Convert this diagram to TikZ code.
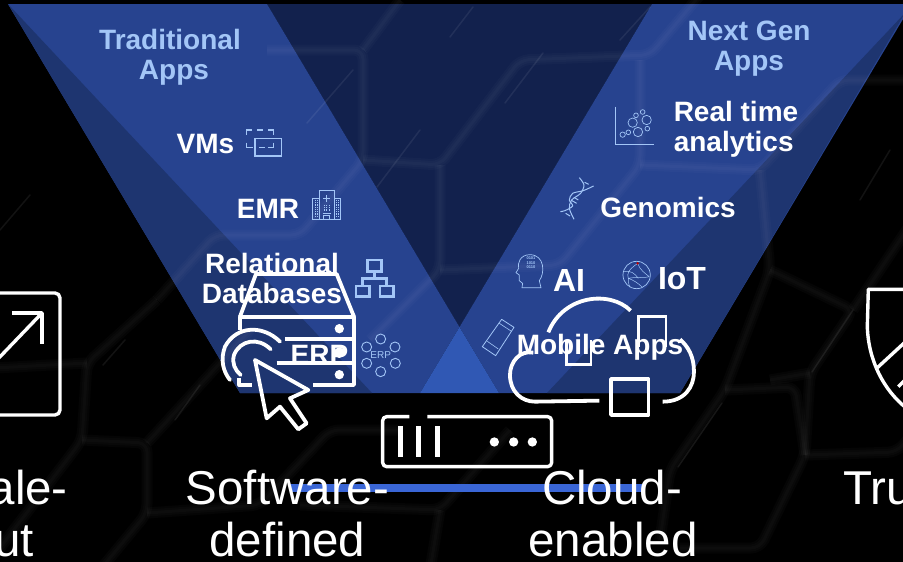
\documentclass[tikz,border=0pt]{standalone}
\usepackage{fontspec}
\setmainfont{Liberation Sans}
\definecolor{bluemain}{HTML}{27438F}
\definecolor{bluedark}{HTML}{1E3570}
\definecolor{navy}{HTML}{12214D}
\definecolor{bluelight}{HTML}{3058B4}
\definecolor{barblue}{HTML}{3A66D6}
\definecolor{pale}{HTML}{A3C6F7}
\newcommand{\cellpath}[1]{%
  \draw[draw=white,opacity=.018,line width=11pt,line join=round,rounded corners=9pt] #1;
  \draw[draw=white,opacity=.018,line width=7pt,line join=round,rounded corners=9pt] #1;
  \draw[draw=white,opacity=.018,line width=3pt,line join=round,rounded corners=9pt] #1;
}
\tikzset{
  apptext/.style={text=white,font=\fontsize{28}{30}\selectfont\bfseries,align=center,inner sep=0pt},
  bigapptext/.style={apptext,font=\fontsize{32}{34}\selectfont\bfseries},
  headtext/.style={apptext,text=pale},
  pillartext/.style={text=white,font=\fontsize{47.5}{51}\selectfont,align=center,inner sep=0pt},
  whiteicon/.style={draw=white,line width=3.8pt,line join=round},
  paleicon/.style={draw=pale,line width=.7pt},
  paleheavy/.style={draw=pale,line width=2.6pt},
  cellglint/.style={draw=white,opacity=.07,line width=1.5pt,line cap=round},
  px3a/.style={shift={(180,250)},x=.3333pt,y=-.3333pt},
  px3b/.style={shift={(370,250)},x=.3333pt,y=-.3333pt},
  px3c/.style={shift={(0,0)},x=.3333pt,y=-.3333pt},
  px3d/.style={shift={(450,0)},x=.3333pt,y=-.3333pt},
  px3e/.style={shift={(780,270)},x=.3333pt,y=-.3333pt},
}
\begin{document}
\begin{tikzpicture}[x=1pt,y=-1pt]
\useasboundingbox (0,0) rectangle (903,562);
\clip (0,0) rectangle (903,562);
\fill[black] (0,0) rectangle (903,562);
% V shape
\fill[navy] (267,4) -- (652,4) -- (459.5,327) -- cycle;
\fill[bluemain] (8,4) -- (267,4) -- (459.5,327) -- (420,393) -- (240,393) -- cycle;
\fill[bluemain] (652,4) -- (912,4) -- (680,393) -- (499,393) -- (459.5,327) -- cycle;
\fill[bluedark] (8,4) -- (372,393) -- (240,393) -- cycle;
\fill[bluedark] (905,13) -- (680,393) -- (547,393) -- cycle;
\fill[bluelight] (459.5,327) -- (420,393) -- (499,393) -- cycle;
% honeycomb background
\cellpath{(157,300) -- (87,363) -- (82,440) -- (0,548)}
\cellpath{(87,363) -- (-5,368)}
\cellpath{(82,440) -- (147,443) -- (147,513) -- (100,570)}
\cellpath{(147,513) -- (260,505) -- (330,430) -- (400,430)}
\cellpath{(147,443) -- (200,385) -- (250,330)}
\cellpath{(157,300) -- (215,235) -- (300,235) -- (363,160) -- (363,50) -- (267,50)}
\cellpath{(363,50) -- (400,0)}
\cellpath{(363,160) -- (440,165) -- (520,60) -- (650,55) -- (700,-5)}
\cellpath{(440,165) -- (440,270) -- (370,340)}
\cellpath{(440,270) -- (560,265) -- (640,165) -- (640,60)}
\cellpath{(640,165) -- (760,170) -- (840,80) -- (903,80)}
\cellpath{(760,170) -- (770,270) -- (725,390) -- (670,470) -- (660,540)}
\cellpath{(770,270) -- (853,310) -- (810,373) -- (805,455) -- (760,548) -- (680,548)}
\cellpath{(725,390) -- (795,387) -- (805,455)}
\cellpath{(810,373) -- (770,380)}
\cellpath{(805,455) -- (897,452) -- (920,425)}
\cellpath{(853,310) -- (910,225)}
\cellpath{(300,505) -- (440,510) -- (510,430)}
\cellpath{(440,510) -- (430,570)}
\draw[cellglint] (353,70) -- (307,123);
\draw[cellglint] (420,130) -- (377,187);
\draw[cellglint] (473,7) -- (450,37);
\draw[cellglint] (543,53) -- (505,103);
\draw[cellglint] (650,7) -- (620,40);
\draw[cellglint] (853,310) -- (812,372);
\draw[cellglint] (175,420) -- (200,385);
\draw[cellglint] (125,340) -- (103,365);
\draw[cellglint] (30,195) -- (0,230);
\draw[cellglint] (890,150) -- (860,200);
\draw[cellglint] (722,403) -- (678,467);
% texts of the V
\node[headtext] (trad) at (170,57) {Traditional\\\hspace*{8pt}Apps};
\node[headtext] (nextgen) at (749,49) {Next Gen\\Apps};
\node[apptext] (vms) at (205.5,144.5) {VMs};
\node[apptext] (emr) at (268,208.5) {EMR};
\node[apptext] (rdb) at (272,278) {Relational\\Databases};
\node[apptext,align=left] (rta) at (736,129) {Real time\\analytics};
\node[apptext] (geno) at (668,207.5) {Genomics};
\node[bigapptext] (ai) at (569,280) {AI};
\node[bigapptext] (iot) at (682,279) {IoT};
% pale icons
\begin{scope}[px3c]
  \draw[paleicon,line width=1.3pt] (740,405) -- (740,390) -- (755,390) (772,390) -- (790,390) (805,390) -- (820,390) -- (820,405)
    (740,428) -- (740,443) -- (758,443) (778,443) -- (795,443) (820,428) -- (820,443) -- (805,443);
  \draw[paleicon,line width=1.3pt] (765,415) rectangle (845,468);
  \draw[paleicon] (958,572) rectangle (1002,657) (938,595) rectangle (958,657) (1002,595) rectangle (1022,657);
  \draw[paleicon,line width=1pt] (980,585) -- (980,605) (970,595) -- (990,595) (972,657) -- (972,648) -- (988,648) -- (988,657) (968,640) -- (992,640);
  \foreach \c in {945,952,1009,1016}{\draw[pale,line width=.8pt,densely dotted] (\c,600) -- (\c,652);}
  \foreach \c in {972,980,988}{\draw[pale,line width=.8pt,densely dotted] (\c,615) -- (\c,635);}
\end{scope}
\begin{scope}[px3a]
  \draw[paleheavy] (563,30) rectangle (605,65) (528,108) rectangle (568,140) (600,108) rectangle (640,140);
  \draw[paleheavy] (584,65) -- (584,85) (548,108) -- (548,85) -- (620,85) -- (620,108);
  \foreach \p in {(602,267),(645,291),(646,340),(602,365),(560,340),(560,291)}{\draw[paleicon,line width=.9pt] \p circle[radius=15];}
  \node[text=pale,font=\fontsize{10}{10}\selectfont,inner sep=0pt] (erpsmall) at (602,316) {ERP};
\end{scope}
\begin{scope}[px3d]
  \draw[paleicon] (497,320) -- (497,433) -- (612,433);
  \foreach \a/\b/\r in {518/404/8,535/397/7,564/396/14,592/386/7,548/368/14,590/360/14,558/346/7,578/336/7}{\draw[paleicon] (\a,\b) circle[radius=\r];}
  \draw[paleicon,line width=1pt] plot[smooth] coordinates {(388,533) (402,555) (392,580) (365,600) (358,625) (372,658)};
  \draw[paleicon,line width=1pt] plot[smooth] coordinates {(431,558) (400,572) (368,580) (358,600) (368,618) (345,632) (331,635)};
  \draw[paleicon,line width=1pt] (404,547) -- (416,553) (372,592) -- (385,600) (366,602) -- (380,610) (347,640) -- (360,648);
\end{scope}
\begin{scope}[px3b]
  \draw[paleicon] (513,113) -- (508,92) .. controls (525,70) and (525,15) .. (480,14) .. controls (450,14) and (442,40) .. (446,55) -- (438,68) -- (448,75) -- (448,92) -- (458,100) -- (456,113) -- cycle;
  \node[text=pale,font=\fontsize{4}{4.6}\selectfont\bfseries,align=center,inner sep=0pt] (bits) at (483,39) {0101\\1010\\0110};
  \draw[paleicon] (800,75) circle[radius=41];
  \draw[paleicon,line width=.5pt] (803,40) .. controls (775,60) and (770,70) .. (775,85) .. controls (790,90) and (805,100) .. (815,110) (775,85) .. controls (800,80) and (825,85) .. (838,80) (803,40) .. controls (810,60) and (825,70) .. (838,80) (762,65) .. controls (780,60) and (795,70) .. (805,85) (780,112) .. controls (775,100) and (775,95) .. (775,85);
  \fill[red!75!black] (803,40) circle[radius=4];
  \draw[paleicon,line width=.8pt,line join=round] (395,208) -- (432,232) -- (377,317) -- (337,290) -- cycle;
  \draw[paleicon,line width=.6pt] (388,220) -- (423,243) (352,274) -- (385,297);
\end{scope}
% server icon
\begin{scope}[px3a]
  \draw[whiteicon] (180,200) -- (228,72) -- (470,72) -- (522,200);
  \draw[whiteicon] (180,240) -- (180,200) -- (522,200) -- (522,405) -- (400,405);
  \draw[whiteicon] (178,385) -- (178,405) -- (215,405);
  \draw[whiteicon] (315,268) -- (522,268) (290,340) -- (522,340);
  \fill[white] (478,236) circle[radius=14] (478,308) circle[radius=16] (478,374) circle[radius=14];
  \draw[whiteicon,line cap=round] (300,275) .. controls (250,225) and (170,225) .. (135,290) .. controls (120,330) and (130,365) .. (150,390);
  \draw[whiteicon,line cap=round] (272,298) .. controls (235,260) and (180,270) .. (162,315) .. controls (155,340) and (165,360) .. (182,375);
  \draw[whiteicon] (225,330) -- (385,420) -- (330,445) -- (380,520) -- (355,538) -- (300,470) -- (260,505) -- cycle;
\end{scope}
\node[apptext] (erp) at (319.5,355) {ERP};
% cloud icon
\begin{scope}[px3b]
  \draw[whiteicon] (535,247) .. controls (580,135) and (720,120) .. (782,182);
  \draw[whiteicon] (490,308) .. controls (450,300) and (420,335) .. (420,375) .. controls (420,425) and (455,455) .. (495,455) -- (688,452);
  \draw[whiteicon] (878,455) .. controls (945,455) and (972,410) .. (972,365) .. controls (972,320) and (955,290) .. (930,268);
  \draw[draw=white,line width=2.6pt] (805,290) -- (805,200) -- (888,200) -- (888,290);
  \draw[draw=white,line width=2.6pt] (590,270) -- (590,343) -- (663,343) -- (663,270);
  \draw[whiteicon,line width=3.4pt] (723,387) rectangle (836,495);
\end{scope}
\node[apptext] (mobile) at (600,347) {Mobile Apps};
% middle box and bar
\begin{scope}[px3b]
  \draw[whiteicon,line width=3.4pt,rounded corners=4pt] (118,500) -- (38,500) -- (38,650) -- (545,650) -- (545,500) -- (172,500);
  \foreach \c in {92,145,203}{\fill[white] (\c-8,528) rectangle (\c+8,622);}
  \foreach \c in {373,431,487}{\fill[white] (\c,576) circle[radius=14];}
\end{scope}
\coordinate (barl) at (290,488);
\coordinate (barr) at (642,488);
\draw[barblue,line width=7.5pt] (barl) -- (barr);
% left and right icons
\draw[whiteicon,line width=3.4pt,rounded corners=5pt] (-10,293) -- (60,293) -- (60,415) -- (-10,415);
\draw[whiteicon,line width=3.4pt] (-5,362) -- (42,313);
\draw[whiteicon,line width=3.4pt] (12,313) -- (42,313) -- (42,344);
\begin{scope}[px3e]
  \draw[whiteicon,line width=3.4pt] (380,58) -- (265,58) -- (262,170) .. controls (265,270) and (310,360) .. (380,415);
  \draw[whiteicon,line width=3.4pt] (290,295) -- (380,212);
  \draw[whiteicon,line width=3.4pt] (355,350) -- (380,325);
\end{scope}
% pillar labels
\node[pillartext,anchor=base east] (scale1) at (68,504.5) {ale-};
\node[pillartext,anchor=base east] (scale2) at (34,556) {ut};
\node[pillartext,anchor=base] (sw1) at (287.5,504.5) {Software-};
\node[pillartext,anchor=base] (sw2) at (287.5,556) {defined};
\node[pillartext,anchor=base] (cl1) at (612,504.5) {Cloud-};
\node[pillartext,anchor=base] (cl2) at (613,556) {enabled};
\node[pillartext,anchor=base west] (tru) at (843,504.5) {Tru};
\end{tikzpicture}
\end{document}
